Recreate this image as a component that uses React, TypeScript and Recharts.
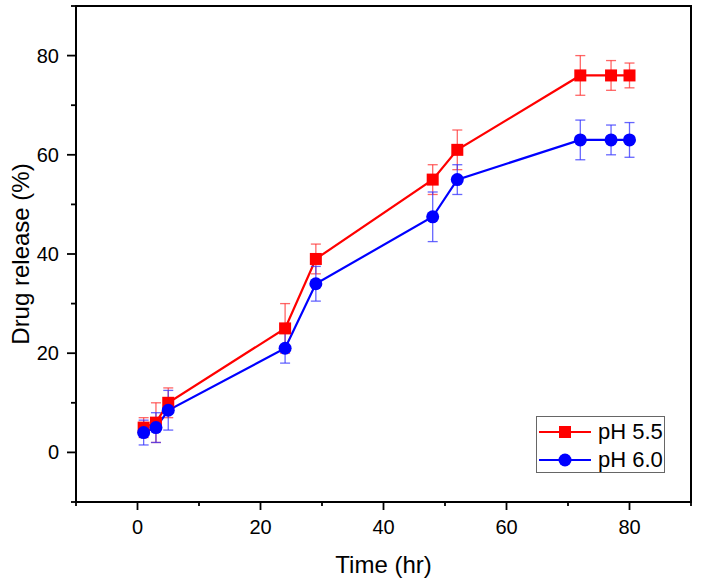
import React from "react";
import {
  LineChart,
  Line,
  XAxis,
  YAxis,
  ErrorBar,
  ReferenceArea,
} from "recharts";

const times = [1, 3, 5, 24, 29, 48, 52, 72, 77, 80];
const ph55 = [5, 6, 10, 25, 39, 55, 61, 76, 76, 76];
const ph55Err = [2, 4, 3, 5, 3, 3, 4, 4, 3, 2.5];
const ph60 = [4, 5, 8.5, 21, 34, 47.5, 55, 63, 63, 63];
const ph60Err = [2.5, 3, 4, 3, 3.5, 5, 3, 4, 3, 3.5];
const axisTicks = [-10, 0, 10, 20, 30, 40, 50, 60, 70, 80, 90];

const FONT = '"Liberation Sans", Arial, sans-serif';

const rows = times.map((t, i) => ({
  t,
  a: ph55[i],
  ea: ph55Err[i],
  b: ph60[i],
  eb: ph60Err[i],
}));

function XTick({ x, y, payload }: any) {
  const major = payload.value % 20 === 0;
  return (
    <g>
      <line x1={x} x2={x} y1={y} y2={y + (major ? 8 : 4)} stroke="#000" strokeWidth={1.8} />
      {major && (
        <text x={x} y={y + 32} textAnchor="middle" fontSize={20} fontFamily={FONT} fill="#000">
          {payload.value}
        </text>
      )}
    </g>
  );
}

function YTick({ x, y, payload }: any) {
  const major = payload.value % 20 === 0;
  return (
    <g>
      <line x1={x} x2={x - (major ? 9 : 5)} y1={y} y2={y} stroke="#000" strokeWidth={1.8} />
      {major && (
        <text x={x - 17} y={y + 7} textAnchor="end" fontSize={20} fontFamily={FONT} fill="#000">
          {payload.value}
        </text>
      )}
    </g>
  );
}

function Square(props: any) {
  const { cx, cy, index } = props;
  return <rect key={`sq-${index}`} x={cx - 6} y={cy - 6} width={12} height={12} fill="#ff0000" />;
}

function Circle(props: any) {
  const { cx, cy, index } = props;
  return <circle key={`ci-${index}`} cx={cx} cy={cy} r={6.5} fill="#0000ff" />;
}

function LegendBox() {
  const item = (color: string, label: string, top: number, marker: "sq" | "ci") => (
    <div style={{ position: "absolute", left: 0, top, height: 28, display: "flex", alignItems: "center" }}>
      <svg width={58} height={20}>
        <line x1={2} x2={54} y1={10} y2={10} stroke={color} strokeWidth={2.2} />
        {marker === "sq" ? (
          <rect x={22} y={4} width={12} height={12} fill={color} />
        ) : (
          <circle cx={28} cy={10} r={6.5} fill={color} />
        )}
      </svg>
      <span style={{ fontFamily: FONT, fontSize: 22, marginLeft: 3, color: "#000" }}>{label}</span>
    </div>
  );
  return (
    <div
      style={{
        position: "absolute",
        left: 536,
        top: 416,
        width: 129,
        height: 57,
        border: "1.5px solid #666",
        background: "#fff",
        boxSizing: "border-box",
      }}
    >
      {item("#ff0000", "pH 5.5", 1, "sq")}
      {item("#0000ff", "pH 6.0", 29, "ci")}
    </div>
  );
}

export default function App() {
  return (
    <div style={{ position: "absolute", left: 0, top: 0, width: 703, height: 586, background: "#fff" }}>
      <LineChart width={703} height={586} data={rows} margin={{ top: 6, right: 12, left: 0, bottom: 0 }}>
        <XAxis
          dataKey="t"
          type="number"
          domain={[-10, 90]}
          ticks={axisTicks}
          interval={0}
          height={84}
          tickSize={0}
          tickMargin={0}
          tickLine={false}
          tick={<XTick />}
          axisLine={{ stroke: "#000", strokeWidth: 2 }}
          label={({ viewBox }: any) => (
            <text
              x={viewBox.x + viewBox.width / 2}
              y={viewBox.y + 71}
              textAnchor="middle"
              fontSize={24}
              fontFamily={FONT}
              fill="#000"
            >
              Time (hr)
            </text>
          )}
        />
        <YAxis
          type="number"
          domain={[-10, 90]}
          ticks={axisTicks}
          interval={0}
          width={76}
          tickSize={0}
          tickMargin={0}
          tickLine={false}
          tick={<YTick />}
          axisLine={{ stroke: "#000", strokeWidth: 2 }}
          label={({ viewBox }: any) => {
            const cy = viewBox.y + viewBox.height / 2;
            return (
              <text
                x={20}
                y={cy}
                transform={`rotate(-90, 20, ${cy})`}
                textAnchor="middle"
                dominantBaseline="central"
                fontSize={24}
                fontFamily={FONT}
                fill="#000"
              >
                Drug release (%)
              </text>
            );
          }}
        />
        <ReferenceArea x1={-10} x2={90} y1={-10} y2={90} fill="none" stroke="#000" strokeWidth={2} />
        <Line
          dataKey="a"
          name="pH 5.5"
          stroke="#ff0000"
          strokeWidth={2.2}
          dot={<Square />}
          activeDot={false}
          isAnimationActive={false}
        >
          <ErrorBar dataKey="ea" direction="y" width={5} stroke="#ff3333" strokeOpacity={0.75} strokeWidth={1.3} />
        </Line>
        <Line
          dataKey="b"
          name="pH 6.0"
          stroke="#0000ff"
          strokeWidth={2.2}
          dot={<Circle />}
          activeDot={false}
          isAnimationActive={false}
        >
          <ErrorBar dataKey="eb" direction="y" width={5} stroke="#3333ff" strokeOpacity={0.75} strokeWidth={1.3} />
        </Line>
      </LineChart>
      <LegendBox />
    </div>
  );
}
